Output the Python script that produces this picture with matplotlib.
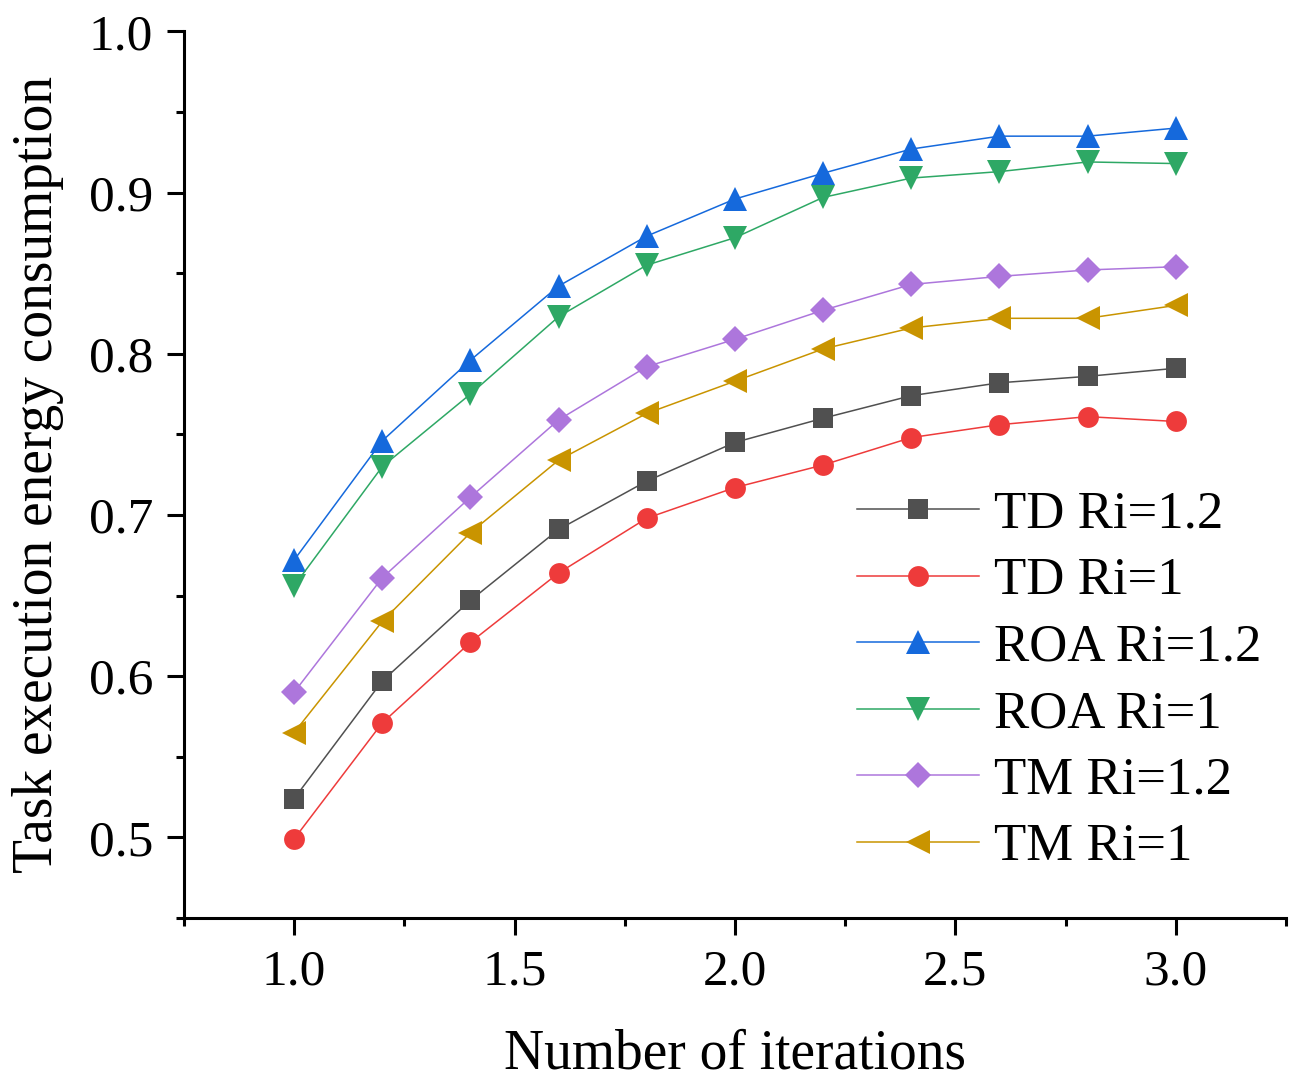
import matplotlib
matplotlib.use('Agg')
import matplotlib.pyplot as plt
from matplotlib.ticker import MultipleLocator

plt.rcParams['font.family'] = ['Liberation Serif', 'DejaVu Serif']

iterations = [1.0, 1.2, 1.4, 1.6, 1.8, 2.0, 2.2, 2.4, 2.6, 2.8, 3.0]

td_12 = [0.524, 0.597, 0.647, 0.691, 0.721, 0.745, 0.760, 0.774, 0.782, 0.786, 0.791]
td_1 = [0.499, 0.571, 0.621, 0.664, 0.698, 0.717, 0.731, 0.748, 0.756, 0.761, 0.758]
roa_12 = [0.672, 0.746, 0.796, 0.842, 0.873, 0.896, 0.912, 0.927, 0.935, 0.935, 0.940]
roa_1 = [0.656, 0.730, 0.775, 0.823, 0.855, 0.872, 0.897, 0.909, 0.913, 0.919, 0.918]
tm_12 = [0.590, 0.661, 0.711, 0.759, 0.792, 0.809, 0.827, 0.843, 0.848, 0.852, 0.854]
tm_1 = [0.565, 0.634, 0.689, 0.734, 0.763, 0.783, 0.803, 0.816, 0.822, 0.822, 0.830]

series = [
    (td_12, 'TD Ri=1.2', '#505050', 's', 14),
    (td_1, 'TD Ri=1', '#EE3B3B', 'o', 15),
    (roa_12, 'ROA Ri=1.2', '#1569DC', '^', 17),
    (roa_1, 'ROA Ri=1', '#2EA865', 'v', 17),
    (tm_12, 'TM Ri=1.2', '#AD76DC', 'D', 13),
    (tm_1, 'TM Ri=1', '#C99400', '<', 17),
]

fig = plt.figure(figsize=(12.95, 10.82), dpi=100)
ax = fig.add_axes([0.142, 0.1516, 0.851, 0.8194])

for vals, name, col, mk, ms in series:
    ax.plot(iterations, vals, color=col, lw=1.1, marker=mk, ms=ms,
            markeredgewidth=0, label=name)

ax.set_xlim(0.75, 3.25)
ax.set_ylim(0.45, 1.0)
ax.xaxis.set_major_locator(MultipleLocator(0.5))
ax.xaxis.set_minor_locator(MultipleLocator(0.25))
ax.yaxis.set_major_locator(MultipleLocator(0.1))
ax.yaxis.set_minor_locator(MultipleLocator(0.05))
ax.xaxis.set_major_formatter(plt.FormatStrFormatter('%.1f'))
ax.yaxis.set_major_formatter(plt.FormatStrFormatter('%.1f'))

for s in ['top', 'right']:
    ax.spines[s].set_visible(False)
for s in ['left', 'bottom']:
    ax.spines[s].set_linewidth(2.2)

ax.tick_params(which='major', direction='out', length=12, width=2.2,
               labelsize=37, pad=10)
ax.tick_params(which='minor', direction='out', length=6, width=2.2)

ax.set_xlabel('Number of iterations', fontsize=40, labelpad=24)
ax.set_ylabel('Task execution energy consumption', fontsize=40, labelpad=18)

ax.legend(loc='upper left', bbox_to_anchor=(0.611, 0.482), frameon=False,
          fontsize=38, handlelength=2.3, handletextpad=0.3,
          labelspacing=0.35, borderpad=0, borderaxespad=0)

fig.savefig('out.png', dpi=100)
